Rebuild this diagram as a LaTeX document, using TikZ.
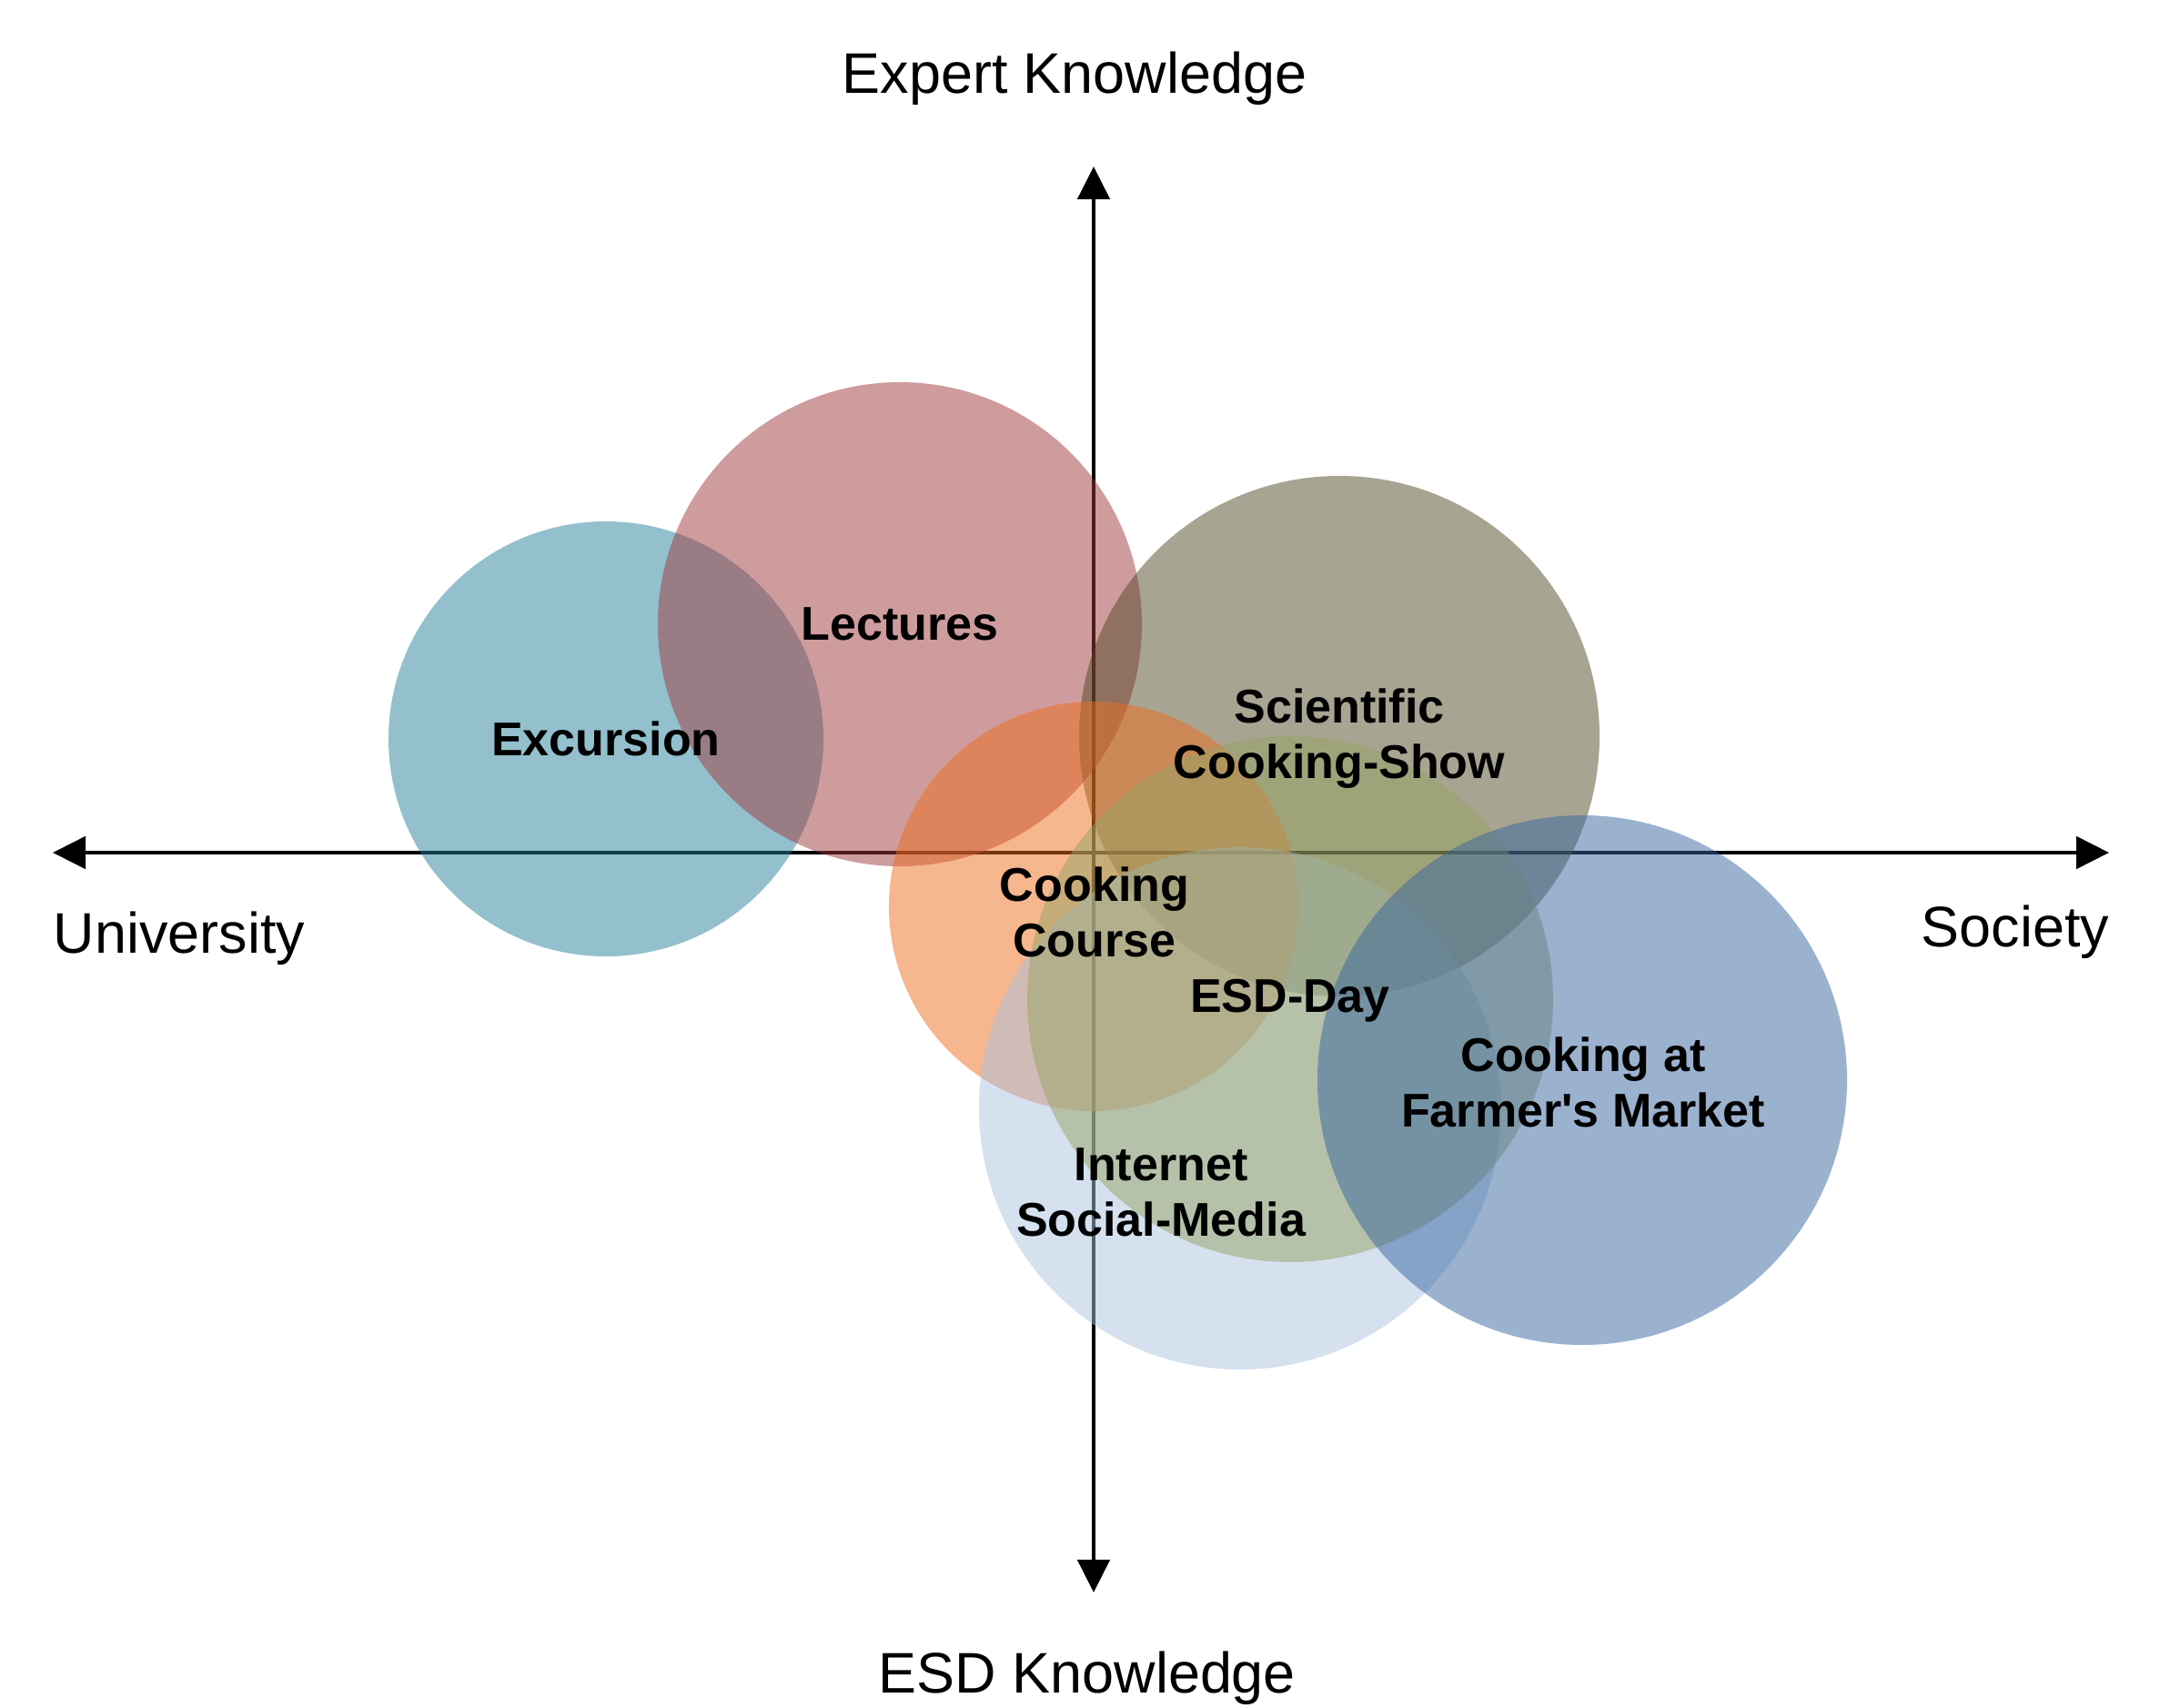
\documentclass[tikz,border=0pt]{standalone}
\usepackage{fontspec}
\setmainfont{Liberation Sans}[Ligatures=TeXOff]
\usetikzlibrary{arrows.meta}
\definecolor{cExc}{RGB}{39,129,153}
\definecolor{cLec}{RGB}{159,57,61}
\definecolor{cSci}{RGB}{81,73,37}
\definecolor{cCook}{RGB}{237,110,30}
\definecolor{cNet}{RGB}{171,195,223}
\definecolor{cEsd}{RGB}{150,163,100}
\definecolor{cFarm}{RGB}{55,101,159}
\begin{document}
\begin{tikzpicture}[x=1cm,y=1cm,
  bubble/.style={circle, inner sep=0pt, outer sep=0pt, draw=none, fill opacity=0.5},
  lbl/.style={font=\fontsize{14.8}{17.4}\selectfont\bfseries, align=center, inner sep=0pt, text=black},
  axlbl/.style={font=\fontsize{17.9}{21}\selectfont, anchor=base, inner sep=0pt, text=black},
  axisline/.style={line width=1.4pt, draw=black,
    {Triangle[length=0.36cm,width=0.35cm]}-{Triangle[length=0.36cm,width=0.35cm]}}]
\useasboundingbox (0,0) rectangle (23.85,-18.77);
% axes
\coordinate (L) at (0.58,-9.37);
\coordinate (R) at (23.18,-9.37);
\coordinate (T) at (12.02,-1.83);
\coordinate (B) at (12.02,-17.50);
\draw[axisline] (L) -- (R);
\draw[axisline] (B) -- (T);
% bubbles
\node[bubble, fill=cExc,  minimum size=4.78cm] (exc)  at (6.66,-8.12) {};
\node[bubble, fill=cLec,  minimum size=5.32cm] (lec)  at (9.89,-6.86) {};
\node[bubble, fill=cSci,  minimum size=5.72cm] (sci)  at (14.72,-8.09) {};
\node[bubble, fill=cCook, minimum size=4.50cm] (cook) at (12.02,-9.96) {};
\node[bubble, fill=cNet,  minimum size=5.74cm] (net)  at (13.63,-12.18) {};
\node[bubble, fill=cEsd,  minimum size=5.78cm] (esd)  at (14.18,-10.98) {};
\node[bubble, fill=cFarm, minimum size=5.82cm] (farm) at (17.39,-11.87) {};
% labels
\node[lbl] (excl)  at (exc)  {Excursion};
\node[lbl] (lecl)  at (lec)  {Lectures};
\node[lbl] (scil)  at (14.72,-8.12) {Scientific\\Cooking-Show};
\node[lbl] (cookl) at (12.03,-10.02) {Cooking\\Course};
\node[lbl] (esdl)  at (14.18,-11.00) {ESD-Day};
\node[lbl] (farml) at (17.40,-11.89) {Cooking at\\Farmer's Market};
\node[lbl] (netl)  at (12.76,-13.10) {Internet\\Social-Media};
% axis labels
\node[axlbl] (tl) at (11.81,-1.03) {Expert Knowledge};
\node[axlbl] (bl) at (11.95,-18.60) {ESD Knowledge};
\node[axlbl] (ll) at (1.97,-10.47) {University};
\node[axlbl] (rl) at (22.15,-10.40) {Society};
\end{tikzpicture}
\end{document}
